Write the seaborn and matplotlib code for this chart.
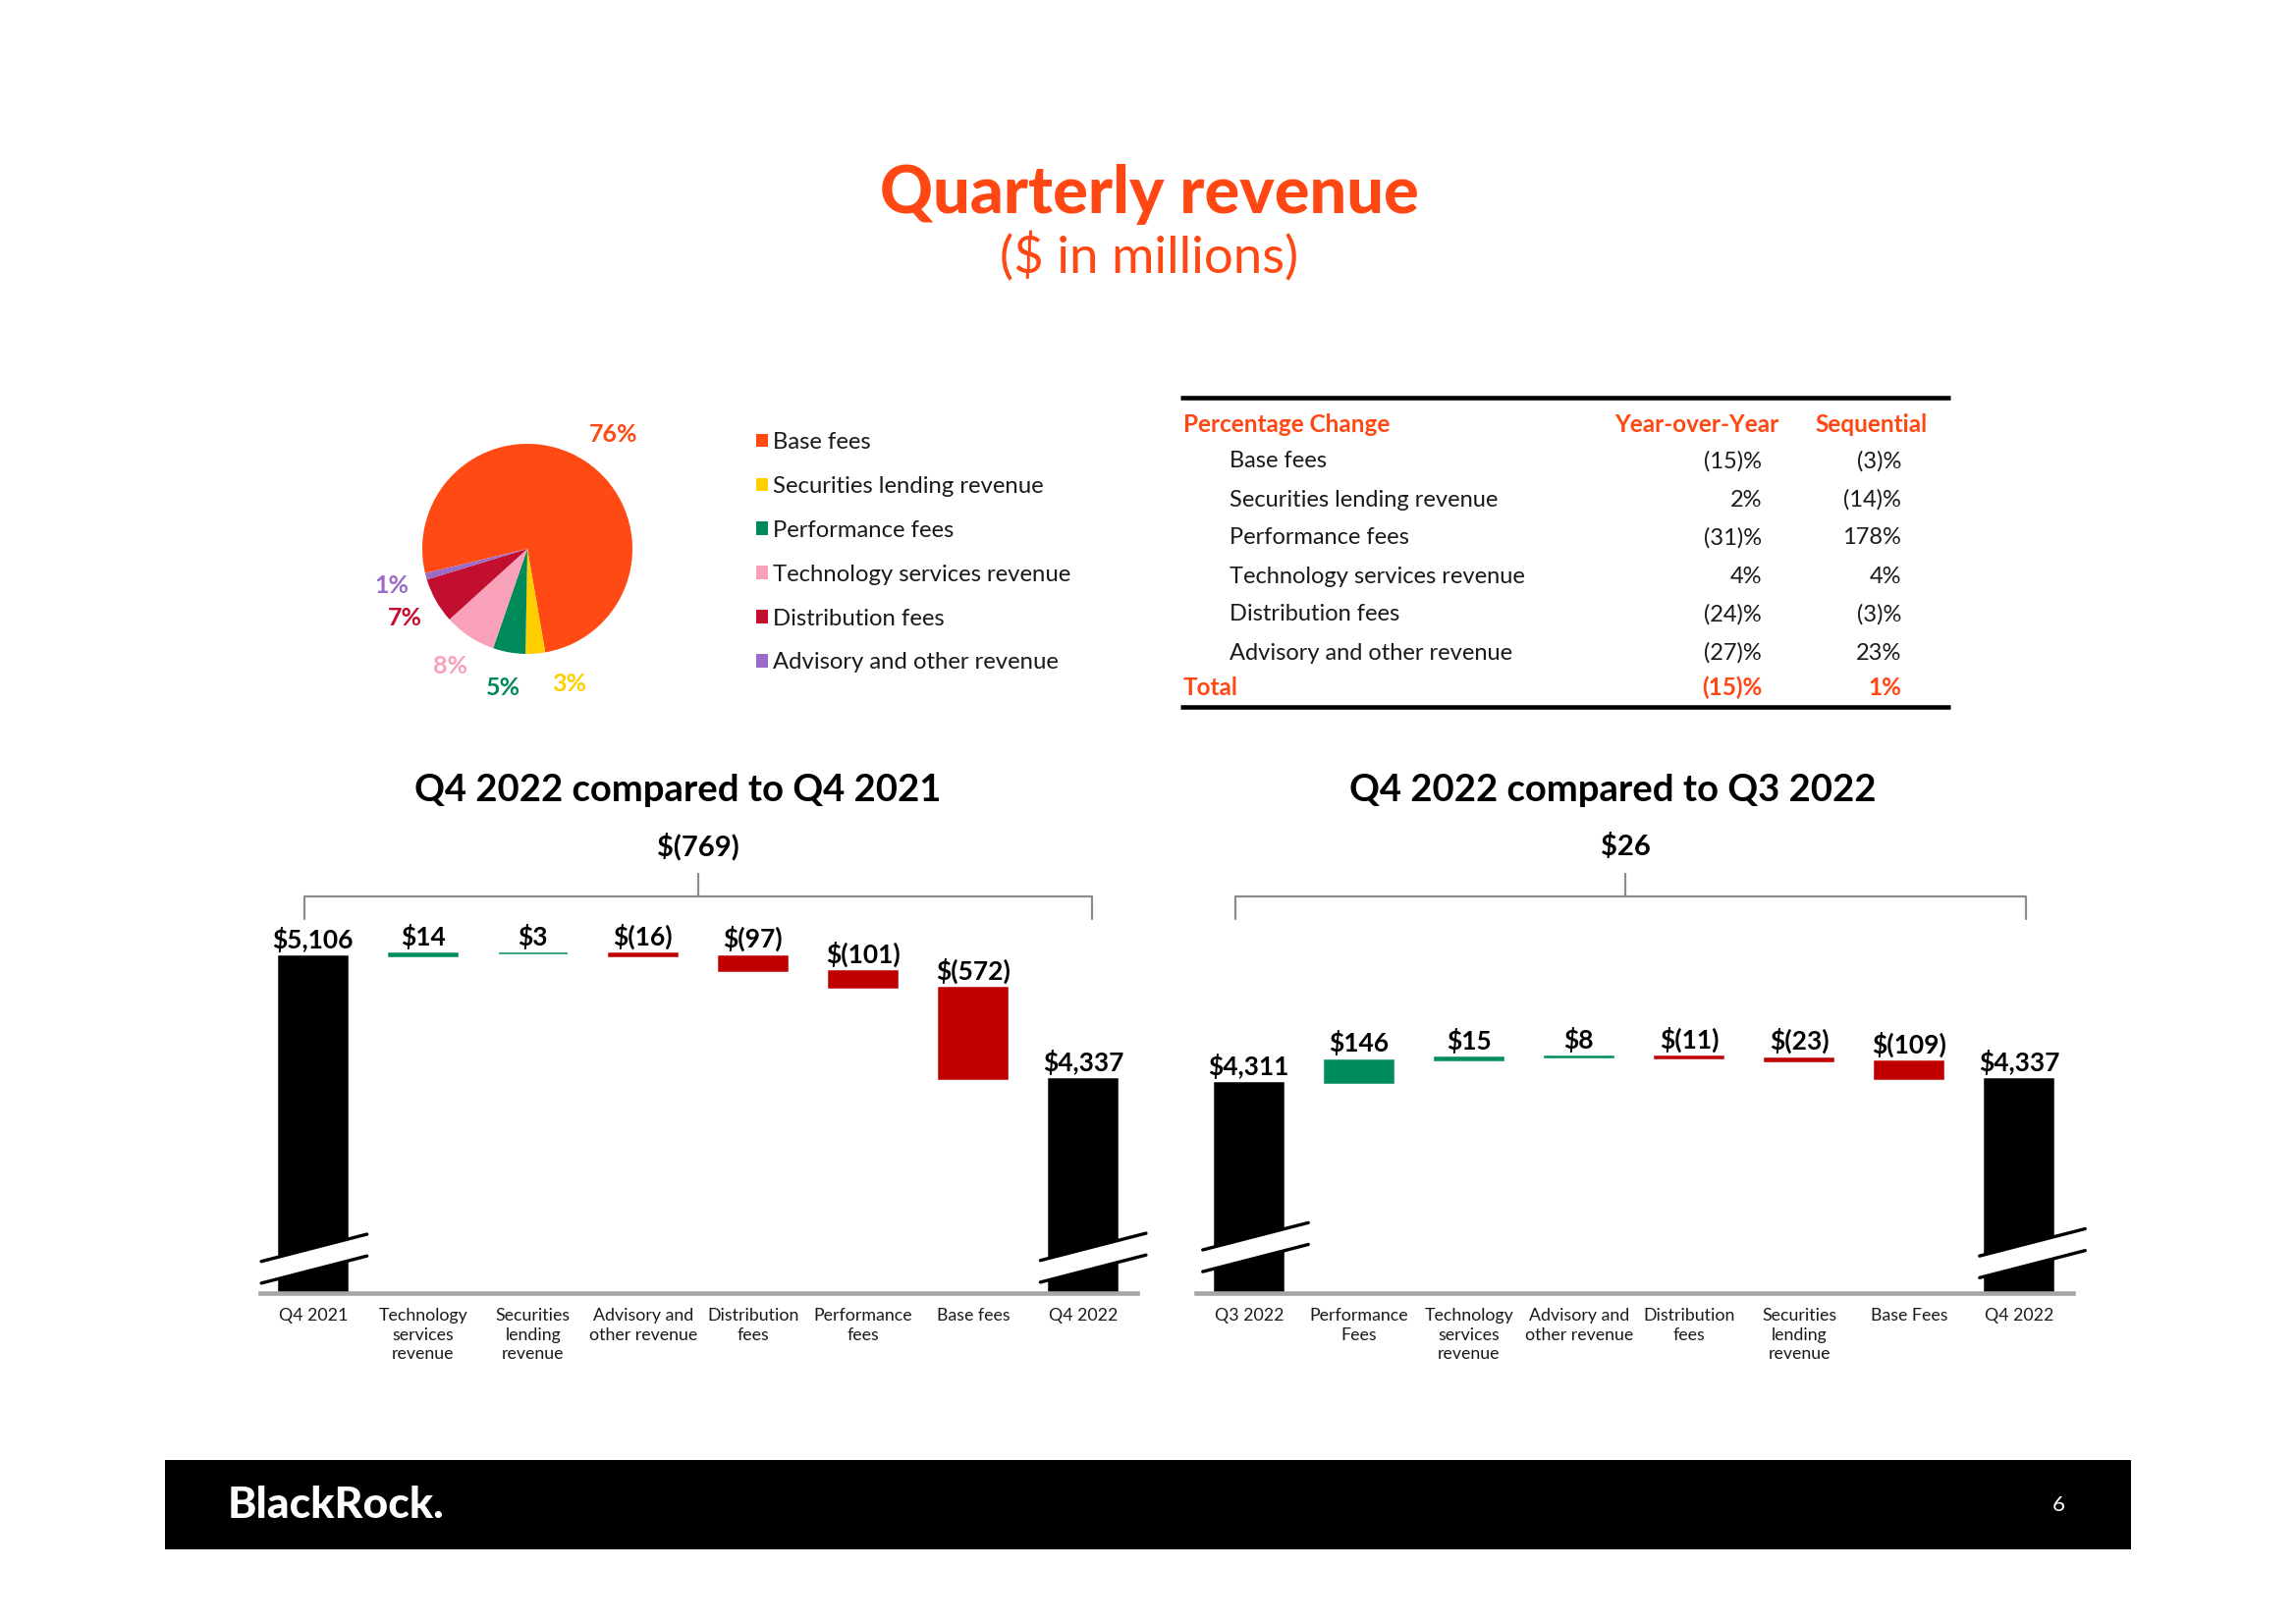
import numpy as np
import pandas as pd
import seaborn as sns
import matplotlib.pyplot as plt
from matplotlib.patches import Rectangle, Polygon

sns.set_theme(style="white")
plt.rcParams['font.family'] = ['Lato', 'DejaVu Sans']

# ---------------- data ----------------
pie_labels = ["Base fees", "Securities lending revenue", "Performance fees",
              "Technology services revenue", "Distribution fees", "Advisory and other revenue"]
pie_pct = [76, 3, 5, 8, 7, 1]
pie_colors = ["#FF4A14", "#FFCF00", "#008A5A", "#F8A1B9", "#C20E2F", "#9B6BC6"]

table_rows = ["Base fees", "Securities lending revenue", "Performance fees",
              "Technology services revenue", "Distribution fees", "Advisory and other revenue"]
table_yoy = ["(15)%", "2%", "(31)%", "4%", "(24)%", "(27)%"]
table_seq = ["(3)%", "(14)%", "178%", "4%", "(3)%", "23%"]
total_yoy = "(15)%"
total_seq = "1%"

yoy_categories = ["Q4 2021", "Technology\nservices\nrevenue", "Securities\nlending\nrevenue",
                  "Advisory and\nother revenue", "Distribution\nfees", "Performance\nfees",
                  "Base fees", "Q4 2022"]
yoy_start = 5106
yoy_deltas = [14, 3, -16, -97, -101, -572]
yoy_end = 4337
yoy_change = "$(769)"

seq_categories = ["Q3 2022", "Performance\nFees", "Technology\nservices\nrevenue",
                  "Advisory and\nother revenue", "Distribution\nfees", "Securities\nlending\nrevenue",
                  "Base Fees", "Q4 2022"]
seq_start = 4311
seq_deltas = [146, 15, 8, -11, -23, -109]
seq_end = 4337
seq_change = "$26"

ORANGE = "#FF4713"
GREEN = "#008C5F"
RED = "#C00000"
GRAY = "#8C8C8C"
W, H = 2338, 1653

fig = plt.figure(figsize=(W / 100, H / 100), dpi=100)
fig.patch.set_facecolor("white")


def fx(px):
    return px / W


def fy(py):
    return 1 - py / H


# ---------------- titles ----------------
fig.text(fx(1170), fy(198), "Quarterly revenue", color=ORANGE, fontsize=48,
         fontweight="black", ha="center", va="center")
fig.text(fx(1170), fy(262), "($ in millions)", color=ORANGE, fontsize=38,
         ha="center", va="center")

# ---------------- pie ----------------
r = 107
cx, cy = 537, 559
half = 1.6 * r
ax_pie = fig.add_axes([fx(cx - half), fy(cy + half), 2 * half / W, 2 * half / H])
wedges, texts = ax_pie.pie(pie_pct, colors=pie_colors, startangle=193.4, counterclock=False,
                           labels=[f"{p}%" for p in pie_pct], labeldistance=1.34,
                           wedgeprops=dict(linewidth=0))
for t, c in zip(texts, pie_colors):
    t.set_color(c)
    t.set_fontweight("bold")
    t.set_fontsize(18)
    t.set_ha("center")
    t.set_va("center")
x3, y3 = texts[1].get_position()
texts[1].set_position((x3 + 0.3, y3 + 0.05))
x0t, y0t = texts[0].get_position()
texts[0].set_position((x0t + 0.08, y0t - 0.03))
ax_pie.set_xlim(-1.6, 1.6)
ax_pie.set_ylim(-1.6, 1.6)
ax_pie.set_aspect("equal")
ax_pie.axis("off")

leg = fig.legend(wedges, pie_labels, loc="upper left", bbox_to_anchor=(fx(770), fy(440)),
                 frameon=False, fontsize=17.2, handlelength=0.5, handleheight=0.5,
                 handletextpad=0.2, labelspacing=1.0, borderpad=0, borderaxespad=0)
for t in leg.get_texts():
    t.set_color("#1a1a1a")

# ---------------- table ----------------
tx0, tx1, ty0, ty1 = 1202, 1986, 405, 720
ax_tab = fig.add_axes([fx(tx0), fy(ty1), (tx1 - tx0) / W, (ty1 - ty0) / H])
ax_tab.set_xlim(0, 1)
ax_tab.set_ylim(0, 1)
ax_tab.axis("off")


def ax_x(px):
    return (px - tx0) / (tx1 - tx0)


def ax_y(py):
    return 1 - (py - ty0) / (ty1 - ty0)


TFS = 17
ax_tab.plot([0, 1], [1, 1], color="black", lw=3.3, solid_capstyle="butt", clip_on=False)
ax_tab.plot([0, 1], [0, 0], color="black", lw=3.3, solid_capstyle="butt", clip_on=False)
hy = ax_y(432)
ax_tab.text(ax_x(1205), hy, "Percentage Change", color=ORANGE, fontsize=TFS + 0.5, fontweight="bold",
            ha="left", va="center")
ax_tab.text(ax_x(1811), hy, "Year-over-Year", color=ORANGE, fontsize=TFS + 0.5, fontweight="bold",
            ha="right", va="center")
ax_tab.text(ax_x(1963), hy, "Sequential", color=ORANGE, fontsize=TFS + 0.5, fontweight="bold",
            ha="right", va="center")
row_py = np.linspace(470, 665, len(table_rows))
for lab, a, b, py in zip(table_rows, table_yoy, table_seq, row_py):
    yy = ax_y(py)
    ax_tab.text(ax_x(1252), yy, lab, color="#1a1a1a", fontsize=TFS, ha="left", va="center")
    ax_tab.text(ax_x(1794), yy, a, color="#1a1a1a", fontsize=TFS, ha="right", va="center")
    ax_tab.text(ax_x(1936), yy, b, color="#1a1a1a", fontsize=TFS, ha="right", va="center")
ty = ax_y(700)
ax_tab.text(ax_x(1205), ty, "Total", color=ORANGE, fontsize=TFS + 0.5, fontweight="bold", ha="left", va="center")
ax_tab.text(ax_x(1794), ty, total_yoy, color=ORANGE, fontsize=TFS + 0.5, fontweight="bold", ha="right", va="center")
ax_tab.text(ax_x(1936), ty, total_seq, color=ORANGE, fontsize=TFS + 0.5, fontweight="bold", ha="right", va="center")


# ---------------- waterfalls ----------------
def fmt_total(v):
    return f"${v:,.0f}"


def fmt_delta(d):
    return f"${d}" if d >= 0 else f"$({-d})"


def draw_break(ax, xc, yc, half_w=0.48, rise=170, gap=136):
    x0, x1 = xc - half_w, xc + half_w
    lo = (yc - gap / 2 - rise / 2, yc - gap / 2 + rise / 2)
    hi = (yc + gap / 2 - rise / 2, yc + gap / 2 + rise / 2)
    poly = Polygon([(x0, lo[0]), (x1, lo[1]), (x1, hi[1]), (x0, hi[0])], closed=True,
                   facecolor="white", edgecolor="none", zorder=5, clip_on=False)
    ax.add_patch(poly)
    ax.plot([x0, x1], lo, color="black", lw=2.4, zorder=6, clip_on=False)
    ax.plot([x0, x1], hi, color="black", lw=2.4, zorder=6, clip_on=False)


def waterfall(ax, cats, start, deltas, end, change, bracket_x, breaks):
    bottoms, heights, colors, labels, tops = [0], [start], ["black"], [fmt_total(start)], [start]
    run = start
    for d in deltas:
        new = run + d
        bottoms.append(min(run, new))
        heights.append(abs(d))
        colors.append(GREEN if d > 0 else RED)
        labels.append(fmt_delta(d))
        tops.append(max(run, new))
        run = new
    bottoms.append(0)
    heights.append(end)
    colors.append("black")
    labels.append(fmt_total(end))
    tops.append(end)

    df = pd.DataFrame({"cat": cats, "h": heights})
    sns.barplot(data=df, x="cat", y="h", hue="cat", palette=dict(zip(cats, colors)),
                legend=False, width=0.62, saturation=1, ax=ax)
    for p, b, c in zip(ax.patches, bottoms, colors):
        p.set_y(b)
        p.set_edgecolor(c)
        p.set_linewidth(1.1)

    for i, (lab, t) in enumerate(zip(labels, tops)):
        ax.annotate(lab, (i, t), xytext=(0, 3), textcoords="offset points", ha="center",
                    va="bottom", fontsize=19, fontweight="bold", color="black")

    ax.set_ylim(3000, 6000)
    ax.set_xlim(-0.48, 7.49)
    ax.set_xlabel("")
    ax.set_ylabel("")
    ax.set_yticks([])
    for s in ["top", "left", "right"]:
        ax.spines[s].set_visible(False)
    ax.spines["bottom"].set_color("#A6A6A6")
    ax.spines["bottom"].set_linewidth(3.3)
    ax.spines["bottom"].set_zorder(7)
    ax.tick_params(axis="x", length=0, pad=11, labelsize=12.8, colors="#1a1a1a")
    for t in ax.get_xticklabels():
        t.set_linespacing(1.25)

    xl, xr, xc = bracket_x
    y_br, y_end, y_stem = 5479, 5337, 5620
    ax.plot([xl, xl, xr, xr], [y_end, y_br, y_br, y_end], color=GRAY, lw=1.6, clip_on=False)
    ax.plot([xc, xc], [y_br, y_stem], color=GRAY, lw=1.6, clip_on=False)
    ax.text(xc, 5790, change, ha="center", va="center", fontsize=21, fontweight="bold", color="black")

    for bxc, byc in breaks:
        draw_break(ax, bxc, byc)


ax_l = fig.add_axes([fx(265), fy(1317), (1158 - 265) / W, (1317 - 828) / H])
waterfall(ax_l, yoy_categories, yoy_start, yoy_deltas, yoy_end, yoy_change,
          (-0.08, 7.08, 3.5), [(0.01, 3215), (7.09, 3221)])
ax_r = fig.add_axes([fx(1218), fy(1317), (2111 - 1218) / W, (1317 - 828) / H])
waterfall(ax_r, seq_categories, seq_start, seq_deltas, seq_end, seq_change,
          (-0.12, 7.06, 3.42), [(0.06, 3287), (7.12, 3249)])

fig.text(fx(690), fy(805), "Q4 2022 compared to Q4 2021", fontsize=27.5, fontweight="bold",
         ha="center", va="center", color="black")
fig.text(fx(1642), fy(805), "Q4 2022 compared to Q3 2022", fontsize=27.5, fontweight="bold",
         ha="center", va="center", color="black")

# ---------------- footer ----------------
fig.patches.append(Rectangle((fx(168), fy(1578)), (2170 - 168) / W, (1578 - 1487) / H,
                             transform=fig.transFigure, facecolor="black", edgecolor="none", zorder=0))
fig.text(fx(232), fy(1533), "BlackRock.", color="white", fontsize=32, fontweight="black",
         ha="left", va="center")
fig.text(fx(2096), fy(1533), "6", color="white", fontsize=16, ha="center", va="center")

fig.savefig("out.png", dpi=100, facecolor="white")
